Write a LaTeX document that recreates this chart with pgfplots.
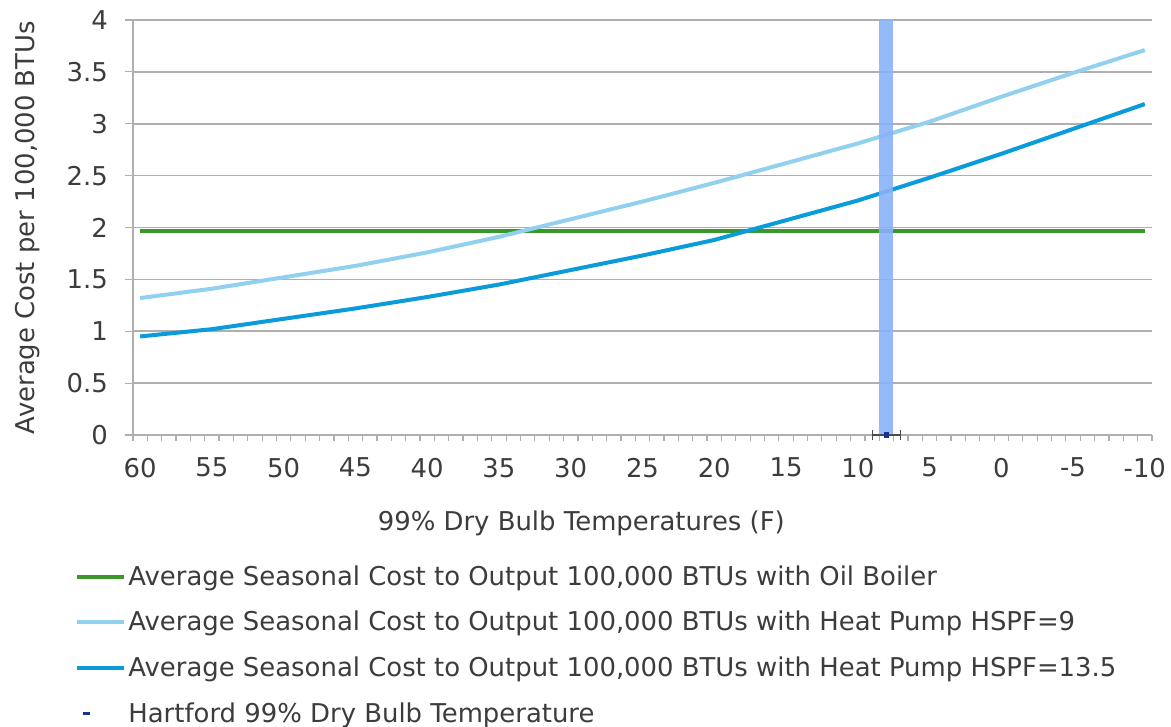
\documentclass[border=0pt]{standalone}
\usepackage{pgfplots}
\pgfplotsset{compat=1.18}
\usepackage{fontspec}
\setmainfont{DejaVu Sans}
\definecolor{oilgreen}{RGB}{58,152,42}
\definecolor{hplight}{RGB}{146,208,240}
\definecolor{hpdark}{RGB}{10,155,218}
\definecolor{barblue}{RGB}{138,178,248}
\definecolor{markblue}{RGB}{25,50,140}
\definecolor{txt}{RGB}{60,60,60}
\definecolor{gridgray}{RGB}{175,175,175}
\begin{document}
\begin{tikzpicture}
\begin{axis}[
  name=ax, at={(0,0)}, anchor=south west,
  scale only axis, width=509.5bp, height=207.5bp,
  x dir=reverse, xmin=-10.5, xmax=60.5, ymin=0, ymax=4,
  axis x line*=bottom, axis y line*=left,
  axis line style={-, gridgray, line width=0.8bp},
  xtick={60,55,...,-10},
  major x tick style={draw=none},
  minor xtick={-10.5,-9.5,...,60.5},
  minor x tick style={gridgray, line width=0.6bp},
  minor tick length=3bp,
  ytick={0,0.5,...,4},
  major y tick style={gridgray, line width=0.6bp},
  major tick length=4bp,
  tick align=outside,
  ymajorgrids, major grid style={gridgray, line width=0.8bp},
  /pgf/number format/assume math mode=true,
  tick label style={font=\fontsize{13}{15}\selectfont, text=txt},
  xticklabel style={yshift=-4bp},
  yticklabel style={xshift=-5bp},
  label style={font=\fontsize{13}{15}\selectfont, text=txt},
  xlabel={99\% Dry Bulb Temperatures (F)},
  ylabel={Average Cost per 100,000 BTUs},
  xlabel style={at={(axis description cs:0.44,0)}, yshift=-44bp, anchor=center},
  ylabel style={at={(axis description cs:-0.103,0.5)}, anchor=center},
  clip=false,
  legend style={at={(axis description cs:0,0)}, anchor=north west, xshift=-29bp, yshift=-64bp,
    draw=none, fill=none, inner sep=0pt, row sep=9.5bp,
    font=\fontsize{13}{15}\selectfont, text=txt,
    nodes={inner sep=1bp}},
  legend cell align=left,
  legend image code/.code={\draw[#1, line width=2bp] (0bp,0bp) -- (23.5bp,0bp);},
]
\addplot[oilgreen, line width=2bp] coordinates {(60,1.97) (-10,1.97)};
\addlegendentry{Average Seasonal Cost to Output 100,000 BTUs with Oil Boiler}
\addplot[hplight, line width=2bp] coordinates {
(60,1.32) (55,1.41) (50,1.52) (45,1.63) (40,1.76) (35,1.91) (30,2.08) (25,2.25)
(20,2.43) (15,2.62) (10,2.81) (5,3.02) (0,3.26) (-5,3.49) (-10,3.71)};
\addlegendentry{Average Seasonal Cost to Output 100,000 BTUs with Heat Pump HSPF=9}
\addplot[hpdark, line width=2bp] coordinates {
(60,0.95) (55,1.02) (50,1.12) (45,1.22) (40,1.33) (35,1.45) (30,1.59) (25,1.73)
(20,1.88) (15,2.07) (10,2.26) (5,2.48) (0,2.71) (-5,2.95) (-10,3.19)};
\addlegendentry{Average Seasonal Cost to Output 100,000 BTUs with Heat Pump HSPF=13.5}
\addplot[ybar, bar width=7bp, fill=barblue, fill opacity=0.9, draw=none, forget plot] coordinates {(8,4)};
\addplot[only marks, mark=square*, mark size=1.2bp, markblue, forget plot,
  error bars/.cd, x dir=both, x fixed=1,
  error bar style={black!70, line width=0.6bp},
  error mark options={rotate=90, mark size=2.5bp, black!70, line width=0.6bp}]
  coordinates {(8,0)};
\addlegendimage{legend image code/.code={\fill[markblue] (3bp,-0.5bp) rectangle (5.8bp,0.6bp);}}
\addlegendentry{Hartford 99\% Dry Bulb Temperature}
\end{axis}
\pgfresetboundingbox
\path (-66.5bp,-146bp) rectangle (519bp,217.5bp);
\end{tikzpicture}
\end{document}
